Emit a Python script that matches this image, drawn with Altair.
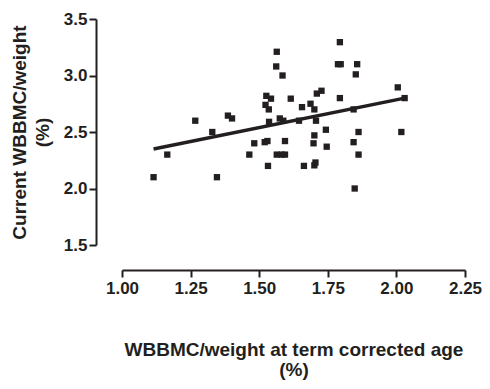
import altair as alt
import pandas as pd

# WBBMC/weight at term corrected age (%)
x_vals = [1.115, 1.165, 1.267, 1.329, 1.346, 1.386, 1.401, 1.464, 1.482, 1.523,
          1.526, 1.520, 1.530, 1.532, 1.535, 1.536, 1.543, 1.562, 1.564, 1.564,
          1.575, 1.582, 1.585, 1.588, 1.594, 1.594, 1.615, 1.645, 1.656, 1.663,
          1.687, 1.698, 1.701, 1.701, 1.701, 1.705, 1.707, 1.710, 1.727, 1.743,
          1.746, 1.787, 1.797, 1.794, 1.794, 1.844, 1.844, 1.848, 1.852, 1.857,
          1.862, 1.862, 2.005, 2.018, 2.030]
# Current WBBMC/weight (%)
y_vals = [2.10, 2.30, 2.60, 2.50, 2.10, 2.645, 2.62, 2.30, 2.40, 2.74,
          2.82, 2.41, 2.42, 2.20, 2.70, 2.59, 2.795, 3.08, 3.21, 2.30,
          2.62, 2.30, 3.00, 2.60, 2.42, 2.30, 2.795, 2.60, 2.72, 2.20,
          2.75, 2.40, 2.70, 2.47, 2.205, 2.23, 2.60, 2.84, 2.865, 2.52,
          2.37, 3.10, 3.10, 3.295, 2.80, 2.70, 2.41, 2.00, 3.01, 3.10,
          2.50, 2.30, 2.895, 2.50, 2.80]

# Regression line end points
fit_x = [1.115, 2.030]
fit_y = [2.35, 2.80]

x_ticks = [1.00, 1.25, 1.50, 1.75, 2.00, 2.25]
y_ticks = [1.5, 2.0, 2.5, 3.0, 3.5]

FONT = "Liberation Sans"
INK = "#231f20"

pts = pd.DataFrame({"x": x_vals, "y": y_vals})
fit = pd.DataFrame({"x": fit_x, "y": fit_y})

xscale = alt.Scale(domain=[1.0, 2.25], nice=False, zero=False)
yscale = alt.Scale(domain=[1.5, 3.5], nice=False, zero=False)

xaxis = alt.Axis(values=x_ticks, format=".2f", offset=25, grid=False,
                 labelFlush=False, labelOverlap=False,
                 title=["WBBMC/weight at term corrected age", "(%)"],
                 titlePadding=44, titleLineHeight=20)
yaxis = alt.Axis(values=y_ticks, format=".1f", offset=26, grid=False,
                 labelFlush=False, labelOverlap=False, labelPadding=2,
                 title=["Current WBBMC/weight", "(%)"],
                 titlePadding=11, titleLineHeight=23)

points = alt.Chart(pts).mark_square(size=40, color=INK, opacity=1).encode(
    x=alt.X("x:Q", scale=xscale, axis=xaxis),
    y=alt.Y("y:Q", scale=yscale, axis=yaxis),
)

line = alt.Chart(fit).mark_line(color=INK, strokeWidth=3.5).encode(
    x=alt.X("x:Q", scale=xscale),
    y=alt.Y("y:Q", scale=yscale),
)

chart = alt.layer(points, line).properties(
    width=343, height=226,
    autosize=alt.AutoSizeParams(type="none"),
    padding={"left": 114, "top": 11, "right": 17, "bottom": 136},
).configure_view(stroke=None).configure_axis(
    domainColor=INK, domainWidth=2, tickColor=INK, tickWidth=2, tickSize=7,
    labelFont=FONT, labelFontSize=17, labelFontWeight="bold", labelColor=INK,
    labelPadding=3,
    titleFont=FONT, titleFontSize=19, titleFontWeight="bold", titleColor=INK,
)

chart.save("out.html", embed_options={"renderer": "svg", "actions": False})
